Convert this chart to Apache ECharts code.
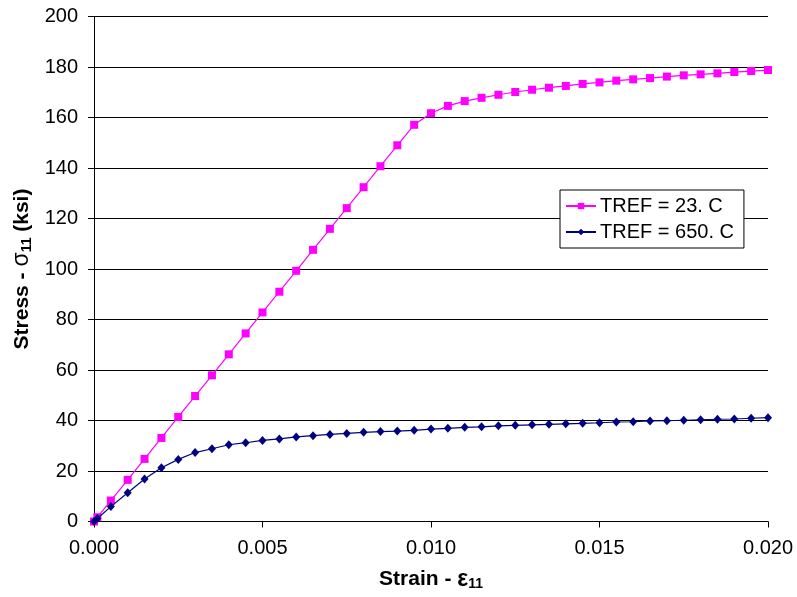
<!DOCTYPE html>
<html>
<head>
<meta charset="utf-8">
<script src="https://cdn.jsdelivr.net/npm/echarts@6/dist/echarts.min.js"></script>
<style>html,body{margin:0;padding:0;background:#fff}#chart{width:797px;height:597px}</style>
</head>
<body>
<div id="chart"></div>
<script>
// Strain values (shared by both curves)
const strain = [0, 0.0001, 0.0005, 0.001, 0.0015, 0.002, 0.0025, 0.003, 0.0035, 0.004, 0.0045,
  0.005, 0.0055, 0.006, 0.0065, 0.007, 0.0075, 0.008, 0.0085, 0.009, 0.0095,
  0.010, 0.0105, 0.011, 0.0115, 0.012, 0.0125, 0.013, 0.0135, 0.014, 0.0145,
  0.015, 0.0155, 0.016, 0.0165, 0.017, 0.0175, 0.018, 0.0185, 0.019, 0.0195, 0.020];

// Stress (ksi) at TREF = 23 C
const stress23 = [0, 1.7, 8.3, 16.5, 24.8, 33.1, 41.4, 49.7, 57.9, 66.2, 74.5,
  82.8, 91.0, 99.3, 107.6, 115.9, 124.1, 132.4, 140.7, 149.0, 157.1,
  161.7, 164.6, 166.5, 167.8, 169.0, 170.1, 171.0, 171.8, 172.5, 173.3,
  173.9, 174.6, 175.1, 175.6, 176.2, 176.7, 177.1, 177.5, 178.0, 178.4, 178.8];

// Stress (ksi) at TREF = 650 C
const stress650 = [0, 1.2, 5.9, 11.4, 16.8, 21.3, 24.6, 27.3, 28.8, 30.4, 31.2,
  32.1, 32.7, 33.5, 34.0, 34.5, 34.9, 35.3, 35.6, 35.8, 36.1,
  36.6, 36.9, 37.3, 37.5, 37.9, 38.1, 38.3, 38.5, 38.7, 38.9,
  39.1, 39.4, 39.5, 39.8, 39.9, 40.1, 40.3, 40.5, 40.6, 40.9, 41.1];

const seriesNames = ['TREF = 23. C', 'TREF = 650. C'];

const pairs = (ys) => strain.map((x, i) => [x, ys[i]]);
const font = '"Liberation Sans", Arial, sans-serif';

const chart = echarts.init(document.getElementById('chart'));
chart.setOption({
  animation: false,
  backgroundColor: '#fff',
  textStyle: { fontFamily: font },
  grid: { left: 94, right: 29, top: 16.5, bottom: 75.5 },
  legend: {
    orient: 'vertical',
    left: 560, top: 190,
    backgroundColor: '#fff',
    borderColor: '#000', borderWidth: 1, borderRadius: 0,
    padding: [6, 10, 6, 5],
    itemGap: 6,
    itemWidth: 30, itemHeight: 8,
    textStyle: { fontFamily: font, fontSize: 20, color: '#000', padding: [0, 0, 0, -1] },
    data: seriesNames
  },
  xAxis: {
    type: 'value', min: 0, max: 0.02, interval: 0.005,
    name: 'Strain - {e|ε}{sub|11}',
    nameLocation: 'middle', nameGap: 46,
    nameTextStyle: {
      fontFamily: font, fontSize: 21, fontWeight: 'bold', color: '#000',
      rich: {
        e: { fontFamily: font, fontSize: 23, fontWeight: 'bold', color: '#000' },
        sub: { fontFamily: font, fontSize: 14, fontWeight: 'bold', color: '#000', padding: [10, 0, 0, 0] }
      }
    },
    axisLine: { onZero: false, lineStyle: { color: '#000', width: 1 } },
    axisTick: { show: true, inside: false, length: 6, lineStyle: { color: '#000' } },
    axisLabel: { fontFamily: font, fontSize: 20, color: '#000', margin: 17, formatter: v => v.toFixed(3) },
    splitLine: { show: false }
  },
  yAxis: {
    type: 'value', min: 0, max: 200, interval: 20,
    name: 'Stress - {s|σ}{sub|11} (ksi)',
    nameLocation: 'middle', nameGap: 54,
    nameTextStyle: {
      fontFamily: font, fontSize: 21, fontWeight: 'bold', color: '#000',
      rich: {
        s: { fontFamily: font, fontSize: 23, fontWeight: 'normal', color: '#000' },
        sub: { fontFamily: font, fontSize: 14, fontWeight: 'bold', color: '#000', padding: [10, 0, 0, 0] }
      }
    },
    axisLine: { show: true, lineStyle: { color: '#000', width: 1 } },
    axisTick: { show: true, inside: false, length: 6, lineStyle: { color: '#000' } },
    axisLabel: { fontFamily: font, fontSize: 20, color: '#000', margin: 16 },
    splitLine: { show: true, lineStyle: { color: '#000', width: 1 } }
  },
  series: [
    {
      name: seriesNames[0], type: 'line', data: pairs(stress23),
      symbol: 'rect', symbolSize: 8,
      itemStyle: { color: '#FF00FF' },
      lineStyle: { color: '#FF00FF', width: 1.2 },
      z: 3
    },
    {
      name: seriesNames[1], type: 'line', data: pairs(stress650),
      symbol: 'diamond', symbolSize: [8, 9],
      itemStyle: { color: '#000080' },
      lineStyle: { color: '#000080', width: 1.2 },
      z: 4
    }
  ]
});
</script>
</body>
</html>
